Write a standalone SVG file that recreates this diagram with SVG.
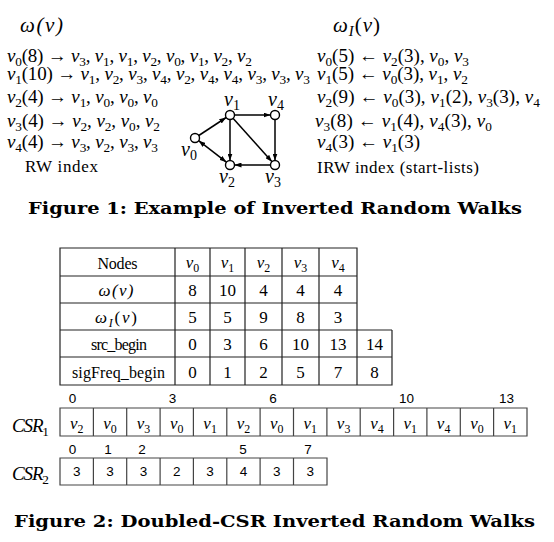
<svg xmlns="http://www.w3.org/2000/svg" width="554" height="542" viewBox="0 0 554 542">
<style>
.m{font-family:"Liberation Serif","DejaVu Serif",serif;font-size:19px;fill:#000}
.big{font-size:21px}
.lbl{font-size:17px}
.csr{font-size:19px}
.i{font-style:italic}
.s{font-size:70%;baseline-shift:-0.3em;font-style:normal}
.si{font-size:70%;baseline-shift:-0.3em;font-style:italic}
.g{font-family:"Liberation Serif","DejaVu Serif",serif;font-size:20px;font-style:italic}
.t{font-family:"Liberation Serif","DejaVu Serif",serif;font-size:16px}
.d{font-family:"Liberation Serif","DejaVu Serif",serif;font-size:17px;text-anchor:middle}
.c{font-family:"Liberation Sans","Open Sans",sans-serif;font-size:13.5px;text-anchor:middle}
.cap{font-family:"DejaVu Serif","Liberation Serif",serif;font-weight:bold;font-size:17px}
.grid{fill:none;stroke:#222;stroke-width:1.2}
.cell{fill:none;stroke:#444;stroke-width:1.2}
.node circle{fill:#fff;stroke:#000;stroke-width:1.4}
.edge{stroke:#000;stroke-width:1.5;fill:none}
</style>
<defs>
<marker id="ah" viewBox="0 0 7 5" refX="7" refY="2.5" markerWidth="7" markerHeight="5" markerUnits="userSpaceOnUse" orient="auto-start-reverse"><path d="M0,0 L7,2.5 L0,5 z" fill="#000"/></marker>
</defs>
<rect width="554" height="542" fill="#fff"/>

<g id="rw-index">
<text class="m big i" x="20" y="32" textLength="43">ω(v)</text>
<text class="m" x="7" y="62" textLength="245"><tspan class="i">v</tspan><tspan class="s">0</tspan>(8) → <tspan class="i">v</tspan><tspan class="s">3</tspan>, <tspan class="i">v</tspan><tspan class="s">1</tspan>, <tspan class="i">v</tspan><tspan class="s">1</tspan>, <tspan class="i">v</tspan><tspan class="s">2</tspan>, <tspan class="i">v</tspan><tspan class="s">0</tspan>, <tspan class="i">v</tspan><tspan class="s">1</tspan>, <tspan class="i">v</tspan><tspan class="s">2</tspan>, <tspan class="i">v</tspan><tspan class="s">2</tspan></text>
<text class="m" x="7" y="80" textLength="303"><tspan class="i">v</tspan><tspan class="s">1</tspan>(10) → <tspan class="i">v</tspan><tspan class="s">1</tspan>, <tspan class="i">v</tspan><tspan class="s">2</tspan>, <tspan class="i">v</tspan><tspan class="s">3</tspan>, <tspan class="i">v</tspan><tspan class="s">4</tspan>, <tspan class="i">v</tspan><tspan class="s">2</tspan>, <tspan class="i">v</tspan><tspan class="s">4</tspan>, <tspan class="i">v</tspan><tspan class="s">4</tspan>, <tspan class="i">v</tspan><tspan class="s">3</tspan>, <tspan class="i">v</tspan><tspan class="s">3</tspan>, <tspan class="i">v</tspan><tspan class="s">3</tspan></text>
<text class="m" x="7" y="103" textLength="151"><tspan class="i">v</tspan><tspan class="s">2</tspan>(4) → <tspan class="i">v</tspan><tspan class="s">1</tspan>, <tspan class="i">v</tspan><tspan class="s">0</tspan>, <tspan class="i">v</tspan><tspan class="s">0</tspan>, <tspan class="i">v</tspan><tspan class="s">0</tspan></text>
<text class="m" x="7" y="127" textLength="153"><tspan class="i">v</tspan><tspan class="s">3</tspan>(4) → <tspan class="i">v</tspan><tspan class="s">2</tspan>, <tspan class="i">v</tspan><tspan class="s">2</tspan>, <tspan class="i">v</tspan><tspan class="s">0</tspan>, <tspan class="i">v</tspan><tspan class="s">2</tspan></text>
<text class="m" x="7" y="148" textLength="151"><tspan class="i">v</tspan><tspan class="s">4</tspan>(4) → <tspan class="i">v</tspan><tspan class="s">3</tspan>, <tspan class="i">v</tspan><tspan class="s">2</tspan>, <tspan class="i">v</tspan><tspan class="s">3</tspan>, <tspan class="i">v</tspan><tspan class="s">3</tspan></text>
<text class="m lbl" x="25" y="172" textLength="73">RW index</text>
</g>

<g id="irw-index">
<text class="m big" x="333" y="32" textLength="47"><tspan class="i">ω</tspan><tspan class="si">I</tspan>(<tspan class="i">v</tspan>)</text>
<text class="m" x="317" y="62" textLength="152"><tspan class="i">v</tspan><tspan class="s">0</tspan>(5) ← <tspan class="i">v</tspan><tspan class="s">2</tspan>(3), <tspan class="i">v</tspan><tspan class="s">0</tspan>, <tspan class="i">v</tspan><tspan class="s">3</tspan></text>
<text class="m" x="317" y="80" textLength="151"><tspan class="i">v</tspan><tspan class="s">1</tspan>(5) ← <tspan class="i">v</tspan><tspan class="s">0</tspan>(3), <tspan class="i">v</tspan><tspan class="s">1</tspan>, <tspan class="i">v</tspan><tspan class="s">2</tspan></text>
<text class="m" x="317" y="103" textLength="223"><tspan class="i">v</tspan><tspan class="s">2</tspan>(9) ← <tspan class="i">v</tspan><tspan class="s">0</tspan>(3), <tspan class="i">v</tspan><tspan class="s">1</tspan>(2), <tspan class="i">v</tspan><tspan class="s">3</tspan>(3), <tspan class="i">v</tspan><tspan class="s">4</tspan></text>
<text class="m" x="315" y="127" textLength="177"><tspan class="i">v</tspan><tspan class="s">3</tspan>(8) ← <tspan class="i">v</tspan><tspan class="s">1</tspan>(4), <tspan class="i">v</tspan><tspan class="s">4</tspan>(3), <tspan class="i">v</tspan><tspan class="s">0</tspan></text>
<text class="m" x="317" y="148" textLength="103"><tspan class="i">v</tspan><tspan class="s">4</tspan>(3) ← <tspan class="i">v</tspan><tspan class="s">1</tspan>(3)</text>
<text class="m lbl" x="317" y="173" textLength="162">IRW index (start-lists)</text>
</g>

<g id="connectors">
<line class="edge" x1="198.8" y1="135.5" x2="226.2" y2="117.5" marker-end="url(#ah)"/>
<line class="edge" x1="198.6" y1="140.7" x2="226.4" y2="162.2" marker-start="url(#ah)" marker-end="url(#ah)"/>
<line class="edge" x1="234.5" y1="115" x2="270.5" y2="115" marker-end="url(#ah)"/>
<line class="edge" x1="230" y1="119.5" x2="230" y2="160.5" marker-end="url(#ah)"/>
<line class="edge" x1="233" y1="118.3" x2="272" y2="161.7" marker-end="url(#ah)"/>
<line class="edge" x1="275" y1="119.5" x2="275" y2="160.5" marker-end="url(#ah)"/>
<line class="edge" x1="270.5" y1="165" x2="234.5" y2="165" marker-end="url(#ah)"/>
</g>

<g id="node-v0" class="node"><circle cx="195" cy="138" r="4.5"/><text class="g" x="181" y="156"><tspan>v</tspan><tspan class="s">0</tspan></text></g>
<g id="node-v1" class="node"><circle cx="230" cy="115" r="4.5"/><text class="g" x="224" y="106"><tspan>v</tspan><tspan class="s">1</tspan></text></g>
<g id="node-v4" class="node"><circle cx="275" cy="115" r="4.5"/><text class="g" x="268" y="106"><tspan>v</tspan><tspan class="s">4</tspan></text></g>
<g id="node-v2" class="node"><circle cx="230" cy="165" r="4.5"/><text class="g" x="219" y="183"><tspan>v</tspan><tspan class="s">2</tspan></text></g>
<g id="node-v3" class="node"><circle cx="275" cy="165" r="4.5"/><text class="g" x="265" y="183"><tspan>v</tspan><tspan class="s">3</tspan></text></g>

<g id="caption-1"><text class="cap" x="28" y="214" textLength="494" lengthAdjust="spacingAndGlyphs">Figure 1: Example of Inverted Random Walks</text></g>

<g id="table">
<path class="grid" d="M60,248H357V385H60Z M60,276H357 M60,303H357 M60,330H392 M60,357H392 M357,385H392V330 M175,248V385 M210,248V385 M245,248V385 M282,248V385 M319,248V385"/>
<text class="t" x="117.5" y="269" text-anchor="middle" textLength="40">Nodes</text>
<text class="d" x="192.5" y="268"><tspan class="i">v</tspan><tspan class="s">0</tspan></text>
<text class="d" x="227.5" y="268"><tspan class="i">v</tspan><tspan class="s">1</tspan></text>
<text class="d" x="263.5" y="268"><tspan class="i">v</tspan><tspan class="s">2</tspan></text>
<text class="d" x="300.5" y="268"><tspan class="i">v</tspan><tspan class="s">3</tspan></text>
<text class="d" x="338" y="268"><tspan class="i">v</tspan><tspan class="s">4</tspan></text>
<text class="d i" x="116" y="296" textLength="35">ω(v)</text>
<text class="d" x="192.5" y="296">8</text><text class="d" x="227.5" y="296">10</text><text class="d" x="263.5" y="296">4</text><text class="d" x="300.5" y="296">4</text><text class="d" x="338" y="296">4</text>
<text class="d" x="116" y="323" textLength="42"><tspan class="i">ω</tspan><tspan class="si">I</tspan>(<tspan class="i">v</tspan>)</text>
<text class="d" x="192.5" y="323">5</text><text class="d" x="227.5" y="323">5</text><text class="d" x="263.5" y="323">9</text><text class="d" x="300.5" y="323">8</text><text class="d" x="338" y="323">3</text>
<text class="t" x="119" y="350" text-anchor="middle" textLength="56">src_begin</text>
<text class="d" x="192.5" y="350">0</text><text class="d" x="227.5" y="350">3</text><text class="d" x="263.5" y="350">6</text><text class="d" x="300.5" y="350">10</text><text class="d" x="338" y="350">13</text><text class="d" x="374.5" y="350">14</text>
<text class="t" x="118.5" y="378" text-anchor="middle" textLength="93">sigFreq_begin</text>
<text class="d" x="192.5" y="378">0</text><text class="d" x="227.5" y="378">1</text><text class="d" x="263.5" y="378">2</text><text class="d" x="300.5" y="378">5</text><text class="d" x="338" y="378">7</text><text class="d" x="374.5" y="378">8</text>
</g>

<g id="csr1">
<text class="m csr i" x="12" y="432" textLength="37">CSR<tspan class="s">1</tspan></text>
<path class="cell" d="M60,408H527V436H60Z M93.4,408V436 M126.7,408V436 M160.1,408V436 M193.4,408V436 M226.8,408V436 M260.1,408V436 M293.5,408V436 M326.9,408V436 M360.2,408V436 M393.6,408V436 M426.9,408V436 M460.3,408V436 M493.6,408V436"/>
<text class="c" x="72.5" y="403">0</text><text class="c" x="172.5" y="403">3</text><text class="c" x="273" y="403">6</text><text class="c" x="406.5" y="403">10</text><text class="c" x="506.5" y="403">13</text>
<text class="d" x="76.7" y="429"><tspan class="i">v</tspan><tspan class="s">2</tspan></text>
<text class="d" x="110" y="429"><tspan class="i">v</tspan><tspan class="s">0</tspan></text>
<text class="d" x="143.4" y="429"><tspan class="i">v</tspan><tspan class="s">3</tspan></text>
<text class="d" x="176.8" y="429"><tspan class="i">v</tspan><tspan class="s">0</tspan></text>
<text class="d" x="210.1" y="429"><tspan class="i">v</tspan><tspan class="s">1</tspan></text>
<text class="d" x="243.5" y="429"><tspan class="i">v</tspan><tspan class="s">2</tspan></text>
<text class="d" x="276.8" y="429"><tspan class="i">v</tspan><tspan class="s">0</tspan></text>
<text class="d" x="310.2" y="429"><tspan class="i">v</tspan><tspan class="s">1</tspan></text>
<text class="d" x="343.6" y="429"><tspan class="i">v</tspan><tspan class="s">3</tspan></text>
<text class="d" x="376.9" y="429"><tspan class="i">v</tspan><tspan class="s">4</tspan></text>
<text class="d" x="410.3" y="429"><tspan class="i">v</tspan><tspan class="s">1</tspan></text>
<text class="d" x="443.6" y="429"><tspan class="i">v</tspan><tspan class="s">4</tspan></text>
<text class="d" x="477" y="429"><tspan class="i">v</tspan><tspan class="s">0</tspan></text>
<text class="d" x="510.3" y="429"><tspan class="i">v</tspan><tspan class="s">1</tspan></text>
</g>

<g id="csr2">
<text class="m csr i" x="12" y="480" textLength="37">CSR<tspan class="s">2</tspan></text>
<path class="cell" d="M60,458H327V485H60Z M93.4,458V485 M126.7,458V485 M160.1,458V485 M193.4,458V485 M226.8,458V485 M260.1,458V485 M293.5,458V485"/>
<text class="c" x="72.5" y="454">0</text><text class="c" x="108" y="454">1</text><text class="c" x="142" y="454">2</text><text class="c" x="243" y="454">5</text><text class="c" x="308" y="454">7</text>
<text class="c" x="76.7" y="476">3</text><text class="c" x="110" y="476">3</text><text class="c" x="143.4" y="476">3</text><text class="c" x="176.8" y="476">2</text><text class="c" x="210.1" y="476">3</text><text class="c" x="243.5" y="476">4</text><text class="c" x="276.8" y="476">3</text><text class="c" x="310.2" y="476">3</text>
</g>

<g id="caption-2"><text class="cap" x="14" y="527" textLength="521" lengthAdjust="spacingAndGlyphs">Figure 2: Doubled-CSR Inverted Random Walks</text></g>
</svg>
